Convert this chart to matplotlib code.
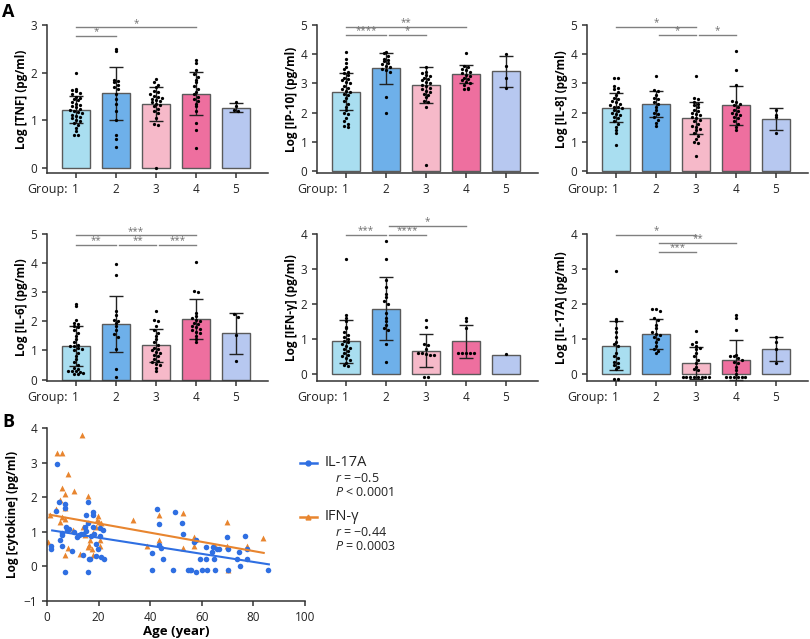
import numpy as np
import matplotlib
matplotlib.use("Agg")
import matplotlib.pyplot as plt
from matplotlib.lines import Line2D

plt.rcParams['font.family'] = ['Open Sans', 'DejaVu Sans']
plt.rcParams['mathtext.fontset'] = 'custom'
plt.rcParams['mathtext.rm'] = 'Open Sans'
plt.rcParams['mathtext.it'] = 'Open Sans:italic'

W, H = 810, 639

groups = ['1', '2', '3', '4', '5']
group_colors = ['#a9def0', '#6eb0ea', '#f6b9c9', '#ee6f9f', '#b7c8f0']

# ---- panel A data (log pg/ml per subject, per group) ----
tnf_points = [
    [2.0, 1.65, 1.64, 1.62, 1.58, 1.55, 1.5, 1.48, 1.45, 1.42, 1.38, 1.35, 1.32, 1.3, 1.28, 1.25,
     1.22, 1.2, 1.18, 1.15, 1.12, 1.1, 1.08, 1.05, 1.0, 0.98, 0.95, 0.9, 0.85, 0.78, 0.7, 0.7],
    [2.5, 2.45, 1.85, 1.82, 1.8, 1.75, 1.7, 1.65, 1.55, 1.45, 1.35, 1.2, 1.0, 0.7, 0.62, 0.45],
    [1.86, 1.8, 1.75, 1.7, 1.62, 1.6, 1.55, 1.52, 1.5, 1.48, 1.45, 1.42, 1.4, 1.38, 1.35, 1.32,
     1.3, 1.25, 1.2, 1.15, 1.05, 0.92, 0.9, 0.0],
    [2.27, 2.2, 2.05, 1.98, 1.92, 1.85, 1.8, 1.72, 1.65, 1.6, 1.55, 1.5, 1.45, 1.4, 1.35, 1.3,
     1.2, 0.95, 0.8, 0.42],
    [1.38, 1.3, 1.22, 1.2],
]
tnf_mean = [1.23, 1.57, 1.34, 1.56, 1.27]
tnf_sd = [0.29, 0.56, 0.36, 0.45, 0.1]
tnf_sig = [(0, 3, 2.95, '*'), (0, 1, 2.78, '*')]

ip10_points = [
    [4.08, 3.85, 3.7, 3.55, 3.5, 3.4, 3.35, 3.3, 3.2, 3.15, 3.1, 3.05, 3.0, 2.9, 2.85, 2.8, 2.75,
     2.7, 2.65, 2.6, 2.5, 2.4, 2.3, 2.2, 2.1, 2.0, 1.95, 1.8, 1.7, 1.6, 1.55, 1.5],
    [4.08, 4.05, 3.95, 3.85, 3.8, 3.75, 3.7, 3.65, 3.6, 3.55, 3.5, 3.45, 3.4, 2.55, 2.0],
    [3.55, 3.4, 3.35, 3.3, 3.25, 3.2, 3.15, 3.1, 3.05, 3.0, 2.95, 2.9, 2.85, 2.8, 2.75, 2.7,
     2.65, 2.6, 2.55, 2.4, 2.35, 2.2, 0.2],
    [4.05, 3.6, 3.55, 3.5, 3.45, 3.4, 3.35, 3.3, 3.25, 3.2, 3.15, 3.1, 3.05, 3.0, 2.95, 2.85,
     2.8, 2.8],
    [4.02, 3.6, 3.2, 2.85],
]
ip10_mean = [2.72, 3.52, 2.95, 3.32, 3.42]
ip10_sd = [0.63, 0.53, 0.62, 0.31, 0.53]
ip10_sig = [(0, 3, 4.92, '**'), (0, 1, 4.66, '****'), (1, 2, 4.66, '*')]

il8_points = [
    [3.18, 3.18, 2.9, 2.85, 2.8, 2.7, 2.6, 2.5, 2.45, 2.4, 2.35, 2.3, 2.25, 2.2, 2.2, 2.15, 2.1,
     2.05, 2.0, 1.95, 1.9, 1.85, 1.8, 1.7, 1.6, 1.5, 1.4, 1.3, 0.88],
    [3.25, 2.77, 2.75, 2.6, 2.5, 2.45, 2.35, 2.3, 2.2, 2.1, 2.0, 1.95, 1.85, 1.75, 1.65, 1.55],
    [3.25, 2.5, 2.45, 2.35, 2.3, 2.25, 2.2, 2.1, 2.05, 2.0, 1.95, 1.9, 1.85, 1.8, 1.75, 1.7, 1.6,
     1.55, 1.5, 1.45, 1.4, 1.3, 1.2, 1.1, 1.0, 0.95, 0.5],
    [4.12, 3.47, 2.95, 2.4, 2.35, 2.3, 2.25, 2.2, 2.1, 2.05, 2.0, 1.95, 1.9, 1.85, 1.8, 1.7, 1.6,
     1.5, 1.4],
    [2.1, 1.9, 1.85, 1.3],
]
il8_mean = [2.17, 2.3, 1.8, 2.25, 1.79]
il8_sd = [0.5, 0.44, 0.55, 0.67, 0.37]
il8_sig = [(0, 2, 4.92, '*'), (1, 2, 4.66, '*'), (2, 3, 4.66, '*')]

il6_points = [
    [2.58, 2.52, 2.05, 1.95, 1.9, 1.85, 1.8, 1.7, 1.6, 1.5, 1.4, 1.3, 1.2, 1.15, 1.15, 1.1, 1.05,
     1.0, 0.9, 0.8, 0.7, 0.6, 0.5, 0.4, 0.35, 0.3, 0.3, 0.28, 0.25, 0.22, 0.2, 0.2],
    [3.98, 3.58, 2.35, 2.22, 2.05, 2.0, 1.95, 1.85, 1.7, 1.55, 1.45, 1.05, 0.35, 0.1],
    [2.35, 2.05, 2.0, 1.85, 1.7, 1.6, 1.5, 1.4, 1.3, 1.2, 1.1, 1.05, 1.0, 0.95, 0.9, 0.85, 0.8,
     0.7, 0.65, 0.6, 0.55, 0.5, 0.4, 0.3],
    [4.05, 3.03, 3.0, 2.3, 2.2, 2.1, 2.05, 2.0, 1.95, 1.9, 1.85, 1.8, 1.75, 1.7, 1.65, 1.6, 1.5,
     1.4, 1.3],
    [2.25, 2.15, 1.52, 0.65],
]
il6_mean = [1.14, 1.91, 1.17, 2.08, 1.59]
il6_sd = [0.69, 0.95, 0.57, 0.69, 0.7]
il6_sig = [(0, 3, 4.95, '***'), (0, 1, 4.61, '**'), (1, 2, 4.61, '**'), (2, 3, 4.61, '***')]

ifng_points = [
    [3.28, 1.7, 1.6, 1.5, 1.35, 1.3, 1.2, 1.1, 1.05, 1.0, 0.95, 0.9, 0.85, 0.8, 0.75, 0.7, 0.65,
     0.6, 0.55, 0.5, 0.45, 0.4, 0.3, 0.25, 0.22],
    [3.8, 3.28, 2.68, 2.5, 2.3, 2.2, 2.1, 2.0, 1.75, 1.6, 1.5, 1.4, 1.3, 1.25, 0.85, 0.35],
    [1.55, 1.35, 0.85, 0.82, 0.7, 0.6, 0.6, 0.58, 0.55, 0.55, -0.08, -0.08],
    [1.6, 1.5, 1.3, 0.6, 0.6, 0.6, 0.6, 0.6],
    [0.57],
]
ifng_mean = [0.93, 1.86, 0.66, 0.94, 0.55]
ifng_sd = [0.62, 0.9, 0.47, 0.47, 0.0]
ifng_sig = [(0, 1, 3.98, '***'), (1, 2, 3.98, '****'), (1, 3, 4.22, '*')]

il17a_points = [
    [2.95, 1.57, 1.5, 1.3, 1.2, 1.05, 0.9, 0.85, 0.8, 0.6, 0.5, 0.45, 0.35, 0.3, 0.25, 0.2, 0.15,
     -0.15, -0.15],
    [1.85, 1.85, 1.8, 1.6, 1.55, 1.4, 1.3, 1.2, 1.15, 1.1, 1.05, 1.0, 0.9, 0.8, 0.7, 0.65, 0.6],
    [1.24, 0.9, 0.85, 0.8, 0.75, 0.7, 0.6, 0.5, 0.4, 0.3, 0.2, 0.15, 0.1, -0.08, -0.08, -0.08,
     -0.08, -0.08, -0.08, -0.08, -0.08],
    [1.68, 1.6, 1.25, 0.55, 0.5, 0.5, 0.45, 0.4, 0.35, 0.3, 0.2, 0.1, 0.0, -0.08, -0.08, -0.08,
     -0.08, -0.08, -0.08],
    [1.05, 0.9, 0.7, 0.3],
]
il17a_mean = [0.8, 1.14, 0.32, 0.4, 0.71]
il17a_sd = [0.7, 0.44, 0.45, 0.57, 0.34]
il17a_sig = [(0, 2, 3.98, '*'), (1, 3, 3.74, '**'), (1, 2, 3.5, '***')]

# ---- panel B data ----
age_il17a = [1.7, 1.7, 3.9, 3.6, 4.8, 4.9, 5.8, 6.0, 6.0, 6.8, 7.0, 7.0, 7.4, 7.7, 8.6, 9.8, 10.6,
             11.6, 12.4, 13.2, 13.8, 14.0, 14.6, 15.0, 15.1, 15.7, 15.9, 15.7, 16.1, 16.8, 17.0,
             17.8, 17.8, 18.0, 18.3, 18.8, 19.1, 19.6, 20.4, 20.6, 21.0, 21.7, 21.9,
             42.8, 43.6, 43.6, 44.3, 44.8, 40.8, 40.8, 48.8, 49.8, 52.5, 52.7, 54.7, 55.5, 56.0,
             56.8, 57.6, 57.8, 59.4, 60.0, 61.5, 61.7, 62.0, 63.9, 64.5, 64.8, 65.0, 65.8, 66.5,
             69.8, 70.0, 70.0, 73.7, 74.6, 74.8, 76.9, 77.5, 77.7, 85.8]
il17a_level = [0.58, 0.5, 2.95, 1.6, 1.85, 0.75, 0.6, 0.97, 0.9, 1.8, 1.68, -0.16, 1.14, 1.04, 1.09,
               0.44, 1.0, 0.85, 0.9, 0.93, 0.32, 0.95, 1.14, 1.48, 1.03, 1.87, 1.24, -0.16, 0.2,
               0.2, 0.87, 1.58, 1.48, 1.14, 0.95, 0.66, 0.3, 0.51, 1.11, 0.88, 0.27, 1.04, 0.2,
               1.67, 1.22, 0.61, 0.54, 0.2, 0.4, -0.1, -0.1, 1.56, 1.24, 0.93, -0.1, -0.1, -0.1,
               0.7, 0.75, -0.16, 0.2, -0.1, 0.56, 0.2, -0.1, 0.42, 0.56, 0.2, -0.1, 0.51, 0.51,
               0.85, 0.51, -0.1, 0.2, 0.42, 0.01, 0.87, 0.51, 0.2, -0.1]
age_ifng = [0.4, 1.3, 3.6, 3.9, 4.9, 4.9, 5.8, 5.8, 5.8, 6.8, 6.8, 7.0, 6.8, 8.0, 8.1, 10.6, 10.1,
            12.6, 13.7, 14.0, 14.8, 15.9, 15.7, 16.1, 16.8, 17.4, 17.8, 18.0, 18.8, 19.4, 19.6,
            20.1, 20.4, 20.6, 20.9, 33.5, 38.7, 43.6, 43.6, 52.6, 52.6, 57.0, 57.0, 65.0, 69.7,
            69.9, 70.0, 77.7, 83.9]
ifng_level = [0.7, 1.48, 1.67, 3.27, 1.92, 1.29, 3.27, 2.28, 1.43, 2.09, 1.69, 1.38, 0.34, 2.66,
              0.54, 2.19, 1.06, 0.35, 3.8, 1.14, 0.9, 2.04, 0.56, 0.61, 0.75, 0.51, 0.97, 0.32,
              1.14, 1.33, 1.45, 1.29, 0.77, 0.59, 1.24, 1.35, 0.59, 1.48, 0.75, 1.53, 0.53, 0.85,
              0.59, 0.59, 1.27, 0.59, -0.1, 0.59, 0.83]
# regression lines: (slope, intercept, x start, x end)
il17a_fit = (-0.01167, 1.063, 2, 86)
ifng_fit = (-0.0133, 1.507, 1, 84)

BLUE = '#2f6fe2'
ORANGE = '#e8852f'
DARK = '#333333'


def px_axes(x0, y0, x1, y1):
    # pixel box (top-left origin) -> figure fraction rect
    return [x0 / W, 1 - y1 / H, (x1 - x0) / W, (y1 - y0) / H]


def swarm_offsets(values, bin_h, dx):
    v = np.asarray(values, dtype=float)
    keys = np.round(v / bin_h).astype(int)
    offs = np.zeros(len(v))
    for k in np.unique(keys):
        idx = np.where(keys == k)[0]
        n = len(idx)
        offs[idx] = (np.arange(n) - (n - 1) / 2) * dx
    return offs


def style_axes(ax):
    for s in ['top', 'right']:
        ax.spines[s].set_visible(False)
    for s in ['left', 'bottom']:
        ax.spines[s].set_linewidth(1.1)
        ax.spines[s].set_color(DARK)
    ax.tick_params(axis='both', colors=DARK, width=1.1, length=3.5, labelsize=8.5,
                   labelcolor='#222222')


def bar_panel(ax, points, means, sds, ymax, ybot, ylabel, sig):
    x = np.arange(len(groups))
    ax.bar(x, means, width=0.7, color=group_colors, edgecolor='#5a5a5a', linewidth=1.0, zorder=1)
    for i in range(len(groups)):
        if sds[i] > 0:
            ax.errorbar(x[i], means[i], yerr=sds[i], fmt='none', ecolor='#222222',
                        elinewidth=1.0, capsize=5, capthick=1.0, zorder=2)
    ppu = 147.0 / (ymax - ybot)
    for i, vals in enumerate(points):
        offs = swarm_offsets(vals, 4.0 / ppu, 0.095)
        ax.scatter(x[i] + offs, vals, s=5.5, color='black', linewidths=0, zorder=3, clip_on=False)
    for i, j, y, label in sig:
        x0 = i + (0.08 if i > 0 else 0.0)
        ax.plot([x0, j], [y, y], color='#808080', lw=1.0, clip_on=False, zorder=4)
        ax.text((x0 + j) / 2, y + 0.012 * (ymax - ybot), label, ha='center', va='baseline',
                fontsize=7, color='#707070', clip_on=False)
    ax.set_xlim(-0.72, 4.8)
    ax.set_ylim(ybot, ymax)
    ax.set_yticks(np.arange(0, ymax + 0.5, 1))
    ax.set_xticks(x)
    ax.set_xticklabels(groups, fontsize=9)
    ax.set_ylabel(ylabel, fontsize=8.5, fontweight='bold', labelpad=1.5)
    ax.annotate('Group:', xy=(0, 0), xycoords=('data', 'axes fraction'), xytext=(-5.5, -7),
                textcoords='offset points', ha='right', va='top', fontsize=9, color='#222222')
    style_axes(ax)


fig = plt.figure(figsize=(W / 100, H / 100), dpi=100)

panels = [
    (tnf_points, tnf_mean, tnf_sd, 3, -0.1, 'Log [TNF] (pg/ml)', tnf_sig),
    (ip10_points, ip10_mean, ip10_sd, 5, -0.07, 'Log [IP-10] (pg/ml)', ip10_sig),
    (il8_points, il8_mean, il8_sd, 5, -0.07, 'Log [IL-8] (pg/ml)', il8_sig),
    (il6_points, il6_mean, il6_sd, 5, -0.05, 'Log [IL-6] (pg/ml)', il6_sig),
    (ifng_points, ifng_mean, ifng_sd, 4, -0.2, 'Log [IFN-γ] (pg/ml)', ifng_sig),
    (il17a_points, il17a_mean, il17a_sd, 4, -0.2, 'Log [IL-17A] (pg/ml)', il17a_sig),
]
lefts = [47, 317, 587]
rows = [(25, 173), (234, 381)]
for k, p in enumerate(panels):
    r, c = divmod(k, 3)
    ax = fig.add_axes(px_axes(lefts[c], rows[r][0], lefts[c] + 221, rows[r][1]))
    bar_panel(ax, *p)

# ---- panel B ----
axb = fig.add_axes(px_axes(47, 428, 305, 601))
axb.scatter(age_il17a, il17a_level, s=16, color=BLUE, linewidths=0, zorder=3)
axb.scatter(age_ifng, ifng_level, s=18, color=ORANGE, marker='^', linewidths=0, zorder=2)
for (m, b, xs, xe), col in [(il17a_fit, BLUE), (ifng_fit, ORANGE)]:
    xx = np.array([xs, xe])
    axb.plot(xx, m * xx + b, color=col, lw=1.5, zorder=4)
axb.set_xlim(0, 100)
axb.set_ylim(-1, 4)
axb.set_xticks(np.arange(0, 101, 20))
axb.set_yticks(np.arange(-1, 5, 1))
axb.set_xlabel('Age (year)', fontsize=9.5, fontweight='bold', labelpad=1)
axb.set_ylabel('Log [cytokine] (pg/ml)', fontsize=8.5, fontweight='bold', labelpad=3)
style_axes(axb)

# legend for B
def fx(x):
    return x / W


def fy(y):
    return 1 - y / H


for y, col, mk, name, rtxt, ptxt in [
        (463, BLUE, 'o', 'IL-17A', r'$\it{r}$ = −0.5', r'$\it{P}$ < 0.0001'),
        (517, ORANGE, '^', 'IFN-γ', r'$\it{r}$ = −0.44', r'$\it{P}$ = 0.0003')]:
    fig.add_artist(Line2D([fx(300), fx(317)], [fy(y), fy(y)], color=col, lw=1.8,
                          transform=fig.transFigure))
    fig.add_artist(Line2D([fx(308)], [fy(y)], color=col, marker=mk, markersize=3.5,
                          transform=fig.transFigure))
    fig.text(fx(325), fy(y), name, fontsize=10.5, va='center', ha='left', color='#222222')
    fig.text(fx(335), fy(y + 15), rtxt, fontsize=9, va='center', ha='left', color='#222222')
    fig.text(fx(335), fy(y + 30), ptxt, fontsize=9, va='center', ha='left', color='#222222')

fig.text(fx(2), fy(12), 'A', fontsize=13, fontweight='bold', va='center', ha='left')
fig.text(fx(2), fy(422), 'B', fontsize=13, fontweight='bold', va='center', ha='left')

fig.savefig('out.png', dpi=100)
